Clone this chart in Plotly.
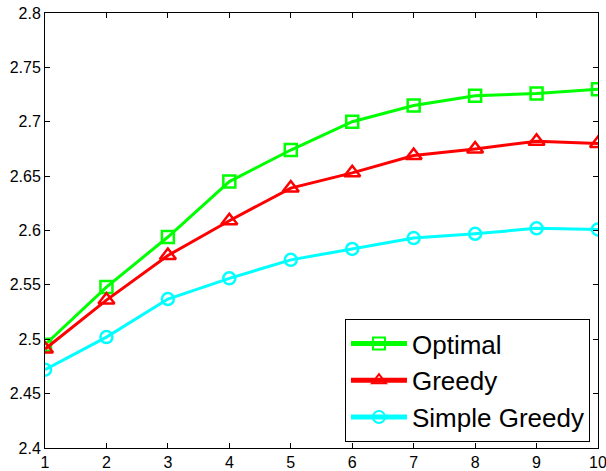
import plotly.graph_objects as go

x = [1, 2, 3, 4, 5, 6, 7, 8, 9, 10]
optimal = [2.495, 2.548, 2.594, 2.645, 2.674, 2.700, 2.715, 2.724, 2.726, 2.730]
greedy = [2.491, 2.536, 2.577, 2.609, 2.639, 2.653, 2.669, 2.675, 2.682, 2.680]
simple_greedy = [2.472, 2.502, 2.537, 2.556, 2.573, 2.583, 2.593, 2.597, 2.602, 2.601]
y_ticks = [2.4, 2.45, 2.5, 2.55, 2.6, 2.65, 2.7, 2.75, 2.8]
y_labels = ["2.4", "2.45", "2.5", "2.55", "2.6", "2.65", "2.7", "2.75", "2.8"]

fig = go.Figure()
series = [
    ("Optimal", optimal, "#00ff00", "square-open", 12),
    ("Greedy", greedy, "#ff0000", "triangle-up-open", 14),
    ("Simple Greedy", simple_greedy, "#00ffff", "circle-open", 12),
]
for name, ys, col, sym, sz in series:
    fig.add_trace(go.Scatter(
        x=x, y=ys, name=name, mode="lines+markers",
        line=dict(color=col, width=3),
        marker=dict(symbol=sym, size=sz, color=col, line=dict(color=col, width=2.5)),
    ))

axis_common = dict(
    showline=True, linecolor="black", linewidth=1, mirror="ticks",
    ticks="inside", ticklen=5, tickcolor="black", showgrid=False, zeroline=False,
    automargin=False, ticklabeloverflow="allow",
    tickfont=dict(family="Liberation Sans, Arial", size=16, color="black"),
)
fig.update_xaxes(range=[1, 10], tickvals=x, **axis_common)
fig.update_yaxes(range=[2.4, 2.8], tickvals=y_ticks, ticktext=y_labels, **axis_common)

fig.update_layout(
    width=606, height=471,
    margin=dict(l=45, r=8, t=13, b=23),
    plot_bgcolor="white", paper_bgcolor="white",
    legend=dict(
        x=0.9855, y=0.0138, xanchor="right", yanchor="bottom",
        bgcolor="white", bordercolor="black", borderwidth=1,
        font=dict(family="Liberation Sans, Arial", size=26, color="black"),
        itemsizing="constant", itemwidth=56,
    ),
)
fig.write_html(
    "out.html",
    config={"displayModeBar": False},
    post_script="document.body.style.margin='0';document.body.style.overflow='hidden';",
)
